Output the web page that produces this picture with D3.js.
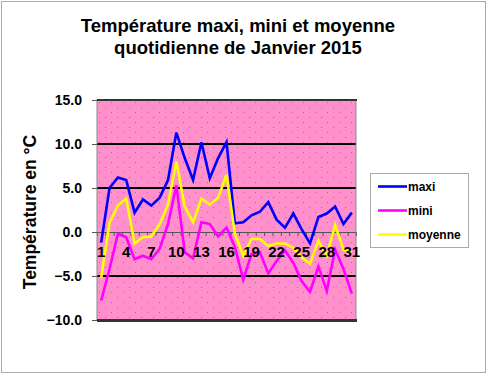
<!DOCTYPE html>
<html>
<head>
<meta charset="utf-8">
<script src="https://cdn.jsdelivr.net/npm/d3@7"></script>
<style>
  body { margin: 0; background: #fff; }
  svg text { font-family: Arial, "Liberation Sans", sans-serif; font-weight: bold; fill: #000; }
</style>
</head>
<body>
<svg id="chart" width="488" height="375"></svg>
<script>
// jours de janvier
var days = d3.range(1, 32);
var maxi = [-1.2, 5.0, 6.2, 5.9, 2.2, 3.7, 3.0, 3.9, 5.9, 11.3, 8.4, 5.9, 10.2, 6.1, 8.4, 10.2,
            1.0, 1.1, 1.9, 2.3, 3.4, 1.4, 0.5, 2.1, 0.3, -1.3, 1.7, 2.1, 2.9, 0.9, 2.2];
var mini = [-7.8, -4.2, -0.2, -0.6, -3.1, -2.7, -3.1, -1.9, 0.9, 5.3, -2.3, -3.0, 1.1, 0.9, -0.5, 0.5,
            -1.7, -5.4, -2.5, -2.3, -4.7, -3.3, -2.1, -3.5, -5.6, -6.8, -3.9, -6.7, -2.0, -4.2, -7.0];
var moyenne = [-5.2, 1.0, 3.0, 3.8, -1.3, -0.6, -0.5, 0.9, 3.1, 8.0, 2.9, 1.1, 3.8, 3.1, 3.9, 6.5,
               -0.2, -2.7, -0.8, -0.8, -1.6, -1.3, -1.3, -1.8, -2.9, -3.6, -1.0, -2.7, 0.8, -2.0, -2.3];
var yTicks = [15, 10, 5, 0, -5, -10];
var xLabels = [1, 4, 7, 10, 13, 16, 19, 22, 25, 28, 31];

var series = [
    { name: "maxi", values: maxi, color: "#0000ff" },
    { name: "mini", values: mini, color: "#ff00ff" },
    { name: "moyenne", values: moyenne, color: "#ffff00" }
];

var svg = d3.select("#chart");
var plotLeft = 97, plotRight = 356, plotTop = 100, plotBottom = 320;

// cadre du graphique
svg.append("rect")
    .attr("x", 1.5).attr("y", 1.5).attr("width", 484).attr("height", 371)
    .attr("fill", "#fff").attr("stroke", "#555").attr("stroke-dasharray", "1,1");

var x = d3.scaleBand().domain(days).range([plotLeft, plotRight]);
var y = d3.scaleLinear().domain([-10, 15]).range([plotBottom, plotTop]);

// fond rose à pois
var defs = svg.append("defs");
var pat = defs.append("pattern").attr("id", "dots")
    .attr("patternUnits", "userSpaceOnUse").attr("width", 12).attr("height", 10)
    .attr("x", plotLeft).attr("y", plotTop);
pat.append("rect").attr("width", 12).attr("height", 10).attr("fill", "#ff90cc");
pat.append("rect").attr("x", 2).attr("y", 2).attr("width", 1).attr("height", 1).attr("fill", "#e0509a");
pat.append("rect").attr("x", 8).attr("y", 7).attr("width", 1).attr("height", 1).attr("fill", "#e0509a");

svg.append("rect")
    .attr("x", plotLeft).attr("y", plotTop).attr("width", plotRight - plotLeft).attr("height", plotBottom - plotTop)
    .attr("fill", "url(#dots)");

// quadrillage
svg.selectAll("line.grid").data(yTicks.filter(function(d) { return d !== 0 && d !== 15 && d !== -10; }))
    .enter().append("line").attr("class", "grid")
    .attr("x1", plotLeft).attr("x2", plotRight)
    .attr("y1", function(d) { return y(d); }).attr("y2", function(d) { return y(d); })
    .attr("stroke", "#000").attr("stroke-width", 2);

// axe horizontal au zéro
var xAxis = d3.axisBottom(x).tickSize(4).tickFormat("");
var gx = svg.append("g").attr("transform", "translate(0," + y(0) + ")").call(xAxis);
gx.select(".domain").attr("stroke", "#555");
gx.selectAll(".tick").attr("transform", function(d) { return "translate(" + (x(d) + 0.5) + ",0)"; });
gx.selectAll(".tick line").attr("stroke", "#555");
gx.append("line").attr("x1", plotRight).attr("x2", plotRight).attr("y1", 0).attr("y2", 4).attr("stroke", "#555");

// bordure du graphique
svg.append("rect")
    .attr("x", plotLeft).attr("y", plotTop).attr("width", plotRight - plotLeft).attr("height", plotBottom - plotTop)
    .attr("fill", "none").attr("stroke", "#8a8a8a").attr("stroke-width", 1);
svg.append("line").attr("x1", plotLeft).attr("x2", plotRight + 1).attr("y1", plotTop).attr("y2", plotTop)
    .attr("stroke", "#333").attr("stroke-width", 2);
svg.append("line").attr("x1", plotLeft).attr("x2", plotRight + 1).attr("y1", plotBottom + 0.5).attr("y2", plotBottom + 0.5)
    .attr("stroke", "#333").attr("stroke-width", 3);

// courbes
var line = d3.line()
    .x(function(d, i) { return x(days[i]) + x.bandwidth() / 2; })
    .y(function(d) { return y(d); });

svg.selectAll("path.serie").data(series).enter().append("path").attr("class", "serie")
    .attr("d", function(s) { return line(s.values); })
    .attr("fill", "none")
    .attr("stroke", function(s) { return s.color; })
    .attr("stroke-width", 2.6)
    .attr("stroke-linejoin", "miter");

// étiquettes des jours
svg.selectAll("text.xlab").data(xLabels).enter().append("text").attr("class", "xlab")
    .attr("x", function(d) { return x(d) + x.bandwidth() / 2; })
    .attr("y", y(0) + 25)
    .attr("text-anchor", "middle")
    .style("font-size", "15px")
    .text(String);

// axe vertical
var yAxis = d3.axisLeft(y).tickValues(yTicks).tickSize(5).tickPadding(10)
    .tickFormat(d3.format(".1f"));
var gy = svg.append("g").attr("transform", "translate(" + plotLeft + ",0)").call(yAxis);
gy.select(".domain").remove();
gy.selectAll(".tick line").attr("stroke", "#555");
gy.selectAll(".tick text").style("font-size", "14px")
    .style("font-family", "Arial, 'Liberation Sans', sans-serif").style("font-weight", "bold");

svg.append("text")
    .attr("transform", "translate(36," + ((plotTop + plotBottom) / 2 + 2) + ") rotate(-90)")
    .attr("text-anchor", "middle")
    .style("font-size", "17.5px")
    .text("Température en °C");

// titre
svg.append("text").attr("x", 238).attr("y", 32).attr("text-anchor", "middle")
    .style("font-size", "18.5px").text("Température maxi, mini et moyenne");
svg.append("text").attr("x", 238).attr("y", 54).attr("text-anchor", "middle")
    .style("font-size", "18.5px").text("quotidienne de Janvier 2015");

// légende
var legend = svg.append("g");
legend.append("rect")
    .attr("x", 370.5).attr("y", 173.5).attr("width", 98).attr("height", 74)
    .attr("fill", "#fff").attr("stroke", "#555").attr("stroke-dasharray", "1,1");
var items = legend.selectAll("g.item").data(series).enter().append("g").attr("class", "item")
    .attr("transform", function(d, i) { return "translate(0," + (186.5 + i * 24) + ")"; });
items.append("line").attr("x1", 378).attr("x2", 407)
    .attr("stroke", function(d) { return d.color; }).attr("stroke-width", 2.6);
items.append("text").attr("x", 408).attr("y", 4)
    .style("font-size", "12px").text(function(d) { return d.name; });
</script>
</body>
</html>
